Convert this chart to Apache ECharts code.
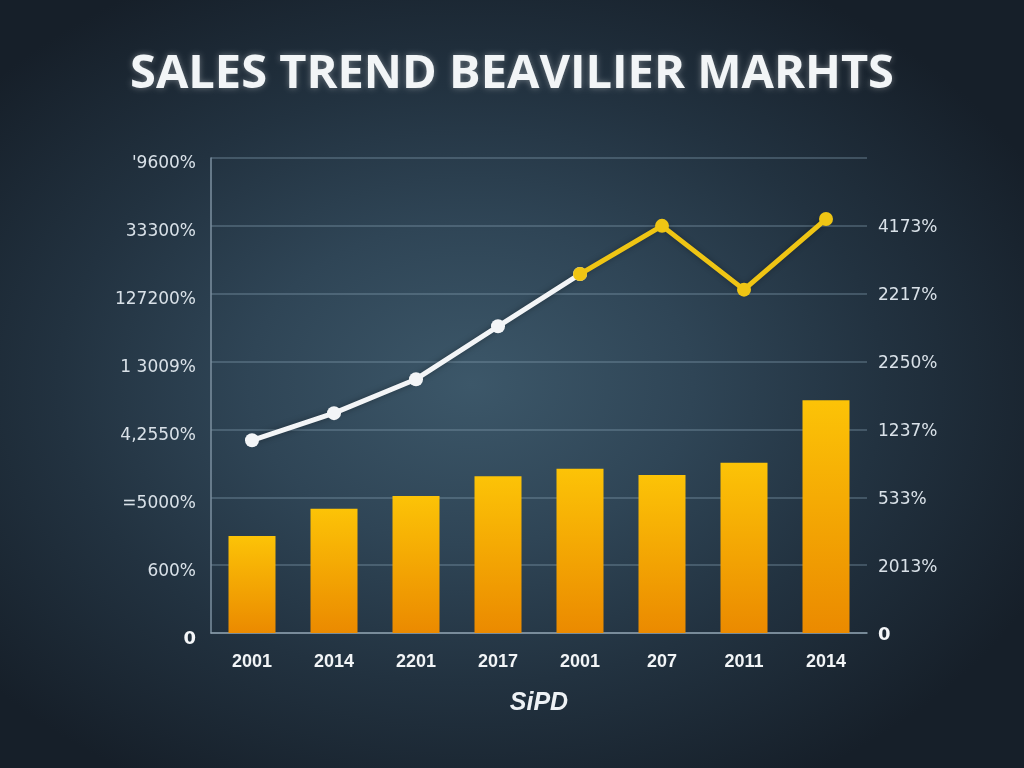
<!DOCTYPE html>
<html>
<head>
<meta charset="utf-8">
<script src="https://cdn.jsdelivr.net/npm/echarts@6/dist/echarts.min.js"></script>
<style>
html,body{margin:0;padding:0;width:1024px;height:768px;overflow:hidden;}
#c{width:1024px;height:768px;background:radial-gradient(ellipse 62% 60% at 46% 50%, #3c5769 0%, #2f4556 35%, #223240 65%, #161f29 100%);}
</style>
</head>
<body>
<div id="c"></div>
<script>
// ---- data ----
const categories = ['2001','2014','2201','2017','2001','207','2011','2014'];
const salesValues = [1.43, 1.83, 2.02, 2.31, 2.42, 2.33, 2.51, 3.43];
const trendValues = [2.84, 3.24, 3.74, 4.52, 5.29, 6.00, 5.06, 6.10];
const trendSplitIndex = 4; // line turns yellow from this point
const leftTicks = ['0', '600%', '=5000%', '4,2550%', '1 3009%', '127200%', '33300%', "'9600%"];
const rightTicks = ['0', '2013%', '533%', '1237%', '2250%', '2217%', '4173%', ''];
const titleText = 'SALES TREND BEAVILIER MARHTS';
const xAxisName = 'SiPD';

const whiteLine = trendValues.map((v, i) => i <= trendSplitIndex ? v : '-');
const yellowLine = trendValues.map((v, i) => i >= trendSplitIndex ? v : '-');

const chart = echarts.init(document.getElementById('c'), null, {renderer: 'canvas'});
const labelFont = 'DejaVu Sans';
chart.setOption({
  backgroundColor: 'transparent',
  animation: false,
  title: {
    text: titleText,
    left: 'center',
    top: 46,
    textStyle: {
      fontFamily: 'Open Sans',
      fontWeight: 700,
      fontSize: 47,
      color: '#f2f5f7',
      textShadowColor: 'rgba(255,255,255,0.35)',
      textShadowBlur: 6
    }
  },
  grid: {left: 211, right: 157, top: 158, bottom: 135, containLabel: false},
  xAxis: {
    type: 'category',
    data: categories,
    boundaryGap: true,
    name: xAxisName,
    nameLocation: 'middle',
    nameGap: 58,
    nameTextStyle: {
      fontFamily: 'Liberation Sans',
      fontWeight: 'bold',
      fontStyle: 'italic',
      fontSize: 25,
      color: '#eef2f5'
    },
    axisLine: {show: true, lineStyle: {color: '#8a9dab', width: 1.5}},
    axisTick: {show: false},
    axisLabel: {
      margin: 20,
      fontFamily: 'Liberation Sans',
      fontWeight: 'bold',
      fontSize: 18,
      color: '#f2f5f7'
    }
  },
  yAxis: [
    {
      type: 'value',
      min: 0, max: 7, interval: 1,
      axisLine: {show: true, lineStyle: {color: '#7d91a0', width: 1.5}},
      axisTick: {show: false},
      splitLine: {show: true, lineStyle: {color: 'rgba(135,160,180,0.45)', width: 1.5}},
      axisLabel: {
        margin: 15,
        padding: [12, 0, 0, 0],
        fontFamily: labelFont,
        fontSize: 17,
        color: '#d9e1e8',
        formatter: v => {
          const t = leftTicks[Math.round(v)];
          return Math.round(v) === 0 ? '{z|' + t + '}' : t;
        },
        rich: {z: {fontFamily: labelFont, fontWeight: 'bold', fontSize: 18, color: '#f4f6f8', padding: [0,0,0,0]}}
      }
    },
    {
      type: 'value',
      position: 'right',
      min: 0, max: 7, interval: 1,
      axisLine: {show: false},
      axisTick: {show: false},
      splitLine: {show: false},
      axisLabel: {
        margin: 11,
        padding: [4, 0, 0, 0],
        fontFamily: labelFont,
        fontSize: 17,
        color: '#d9e1e8',
        formatter: v => {
          const t = rightTicks[Math.round(v)];
          return Math.round(v) === 0 ? '{z|' + t + '}' : t;
        },
        rich: {z: {fontFamily: labelFont, fontWeight: 'bold', fontSize: 18, color: '#f4f6f8'}}
      }
    }
  ],
  series: [
    {
      type: 'bar',
      data: salesValues,
      barWidth: 47,
      itemStyle: {
        color: new echarts.graphic.LinearGradient(0, 0, 0, 1, [
          {offset: 0, color: '#fcc307'},
          {offset: 1, color: '#eb8a00'}
        ])
      },
      z: 2
    },
    {
      type: 'line',
      data: whiteLine,
      symbol: 'circle',
      symbolSize: 14,
      lineStyle: {color: '#f3f5f7', width: 5, shadowColor: 'rgba(0,0,0,0.35)', shadowBlur: 6},
      itemStyle: {color: '#f3f5f7'},
      z: 4
    },
    {
      type: 'line',
      data: yellowLine,
      symbol: 'circle',
      symbolSize: 14,
      lineStyle: {color: '#efc514', width: 5, shadowColor: 'rgba(0,0,0,0.3)', shadowBlur: 6},
      itemStyle: {color: '#efc514'},
      z: 5
    }
  ]
});
</script>
</body>
</html>
